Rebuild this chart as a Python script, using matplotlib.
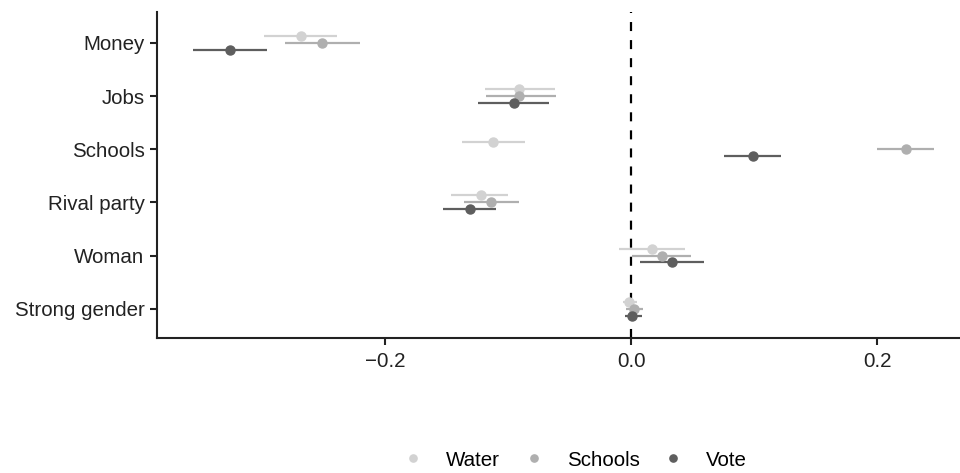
import matplotlib
matplotlib.use("Agg")
import matplotlib.pyplot as plt
from matplotlib.lines import Line2D

plt.rcParams.update({"font.family": ["Liberation Sans", "DejaVu Sans"],
                     "font.size": 14.8, "lines.scale_dashes": False})

# rows from bottom to top
rows = ["Strong gender", "Woman", "Rival party", "Schools", "Jobs", "Money"]
series = ["Water", "Schools", "Vote"]

# estimates and interval bounds, per series, in the order of rows
water_est = [-0.002, 0.017, -0.122, -0.112, -0.091, -0.268]
water_lo = [-0.007, -0.010, -0.146, -0.137, -0.119, -0.298]
water_hi = [0.005, 0.044, -0.100, -0.086, -0.062, -0.239]

schools_est = [0.002, 0.025, -0.114, 0.223, -0.091, -0.251]
schools_lo = [-0.004, 0.001, -0.136, 0.200, -0.118, -0.281]
schools_hi = [0.010, 0.049, -0.091, 0.246, -0.061, -0.220]

vote_est = [0.001, 0.033, -0.131, 0.099, -0.095, -0.326]
vote_lo = [-0.005, 0.007, -0.153, 0.075, -0.124, -0.356]
vote_hi = [0.009, 0.059, -0.110, 0.122, -0.067, -0.296]

est = [water_est, schools_est, vote_est]
lo = [water_lo, schools_lo, vote_lo]
hi = [water_hi, schools_hi, vote_hi]

COLORS = ["#d2d2d2", "#afafaf", "#5e5e5e"]
OFFSETS = [0.13, 0.0, -0.13]
AX_COL = "#222222"

fig = plt.figure(figsize=(9.6, 4.73), dpi=100)
ax = fig.add_axes([0.1635, 0.2854, 0.8365, 0.6892])

ax.axvline(0, color="black", lw=1.6, dashes=(6.5, 6.5), zorder=1)

for k in range(3):
    ys = [i + 1 + OFFSETS[k] for i in range(len(rows))]
    ax.hlines(ys, lo[k], hi[k], color=COLORS[k], lw=1.6, zorder=2)
    ax.plot(est[k], ys, "o", color=COLORS[k], ms=6.5, zorder=3)

ax.set_xlim(-0.385, 0.267)
ax.set_ylim(0.45, 6.58)
ax.set_yticks(range(1, len(rows) + 1))
ax.set_yticklabels(rows)
ax.set_xticks([-0.2, 0.0, 0.2])
ax.set_xticklabels(["\u22120.2", "0.0", "0.2"])

for s in ("top", "right"):
    ax.spines[s].set_visible(False)
for s in ("left", "bottom"):
    ax.spines[s].set_linewidth(1.5)
    ax.spines[s].set_color(AX_COL)
ax.tick_params(axis="both", colors=AX_COL, width=1.5, length=5,
               labelcolor="#222222")
ax.tick_params(axis="x", pad=5)
ax.tick_params(axis="y", pad=4)

handles = [Line2D([], [], ls="none", marker="o", ms=5.2, color=c) for c in COLORS]
fig.legend(handles, series, loc="center", bbox_to_anchor=(574 / 960, 1 - 460 / 473),
           ncol=3, frameon=False, handletextpad=1.0, columnspacing=1.03,
           handlelength=1.2, borderpad=0.1, fontsize=14.8)

fig.savefig("out.png", dpi=100, facecolor="white")
